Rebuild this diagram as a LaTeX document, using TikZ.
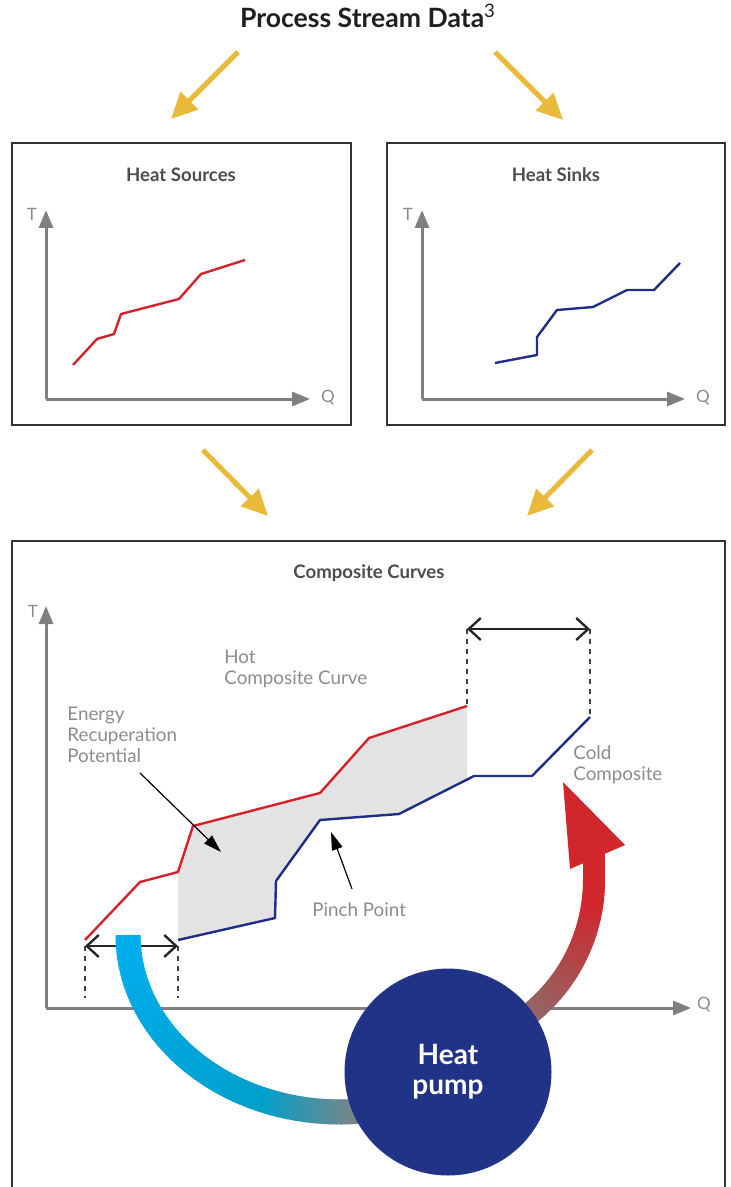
\documentclass[tikz,border=0pt]{standalone}
\usepackage{fontspec}
\setmainfont{Lato}
\usetikzlibrary{arrows.meta,calc}

\definecolor{flowyellow}{RGB}{233,185,57}
\definecolor{hotred}{RGB}{210,35,42}
\definecolor{coldblue}{RGB}{31,45,134}
\definecolor{pumpblue}{RGB}{33,51,135}
\definecolor{axisgrey}{RGB}{127,127,127}
\definecolor{labelgrey}{RGB}{140,140,140}
\definecolor{titlegrey}{RGB}{77,77,77}
\definecolor{areagrey}{RGB}{227,227,227}
\definecolor{bandcyan}{RGB}{0,174,239}
\definecolor{bandmid}{RGB}{0,160,204}
\definecolor{bandgrey}{RGB}{122,133,134}
\definecolor{bandbrown}{RGB}{138,111,108}
\definecolor{bandred}{RGB}{208,38,44}

\begin{document}
\begin{tikzpicture}[x=0.5pt,y=-0.5pt,
    flow/.style={flowyellow,line width=2.5pt,-{Triangle[length=13pt,width=12pt]}},
    panel/.style={draw=black!80,line width=0.6pt},
    axis/.style={axisgrey,line width=1.5pt,-{Triangle[length=9pt,width=7pt]}},
    axislabel/.style={text=labelgrey,anchor=base,font=\fontsize{8.5}{10}\selectfont},
    paneltitle/.style={text=titlegrey,anchor=base,font=\bfseries\fontsize{9.3}{11}\selectfont},
    hotline/.style={hotred,line width=1.2pt,line join=round},
    coldline/.style={coldblue,line width=1.2pt,line join=round},
    gap/.style={black!85,line width=1.2pt,{Straight Barb[length=6pt,width=11pt]}-{Straight Barb[length=6pt,width=11pt]}},
    guide/.style={black!75,line width=0.6pt,dash pattern=on 2.5pt off 2.5pt},
    note/.style={text=labelgrey,align=left,anchor=north west,inner sep=0pt,font=\fontsize{9.4}{10.5}\selectfont},
    pointer/.style={black,line width=0.6pt,-{Triangle[length=9pt,width=5.5pt]}},
    band/.style={line width=#1,line cap=butt}
  ]
  \useasboundingbox (0,0) rectangle (731,1187);

  % title and the four yellow arrows
  \node[anchor=base,text=black!88,font=\bfseries\fontsize{13.3}{16}\selectfont] (data) at (368,28)
    {Process Stream Data\textsuperscript{\mdseries 3}};
  \coordinate (d1) at (238,52);  \coordinate (src) at (171,119);
  \coordinate (d2) at (495,52);  \coordinate (snk) at (563,120);
  \coordinate (m1) at (203,450); \coordinate (cmp1) at (268,516);
  \coordinate (m2) at (592,450); \coordinate (cmp2) at (527,516);
  \draw[flow] (d1) -- (src);
  \draw[flow] (d2) -- (snk);
  \draw[flow] (m1) -- (cmp1);
  \draw[flow] (m2) -- (cmp2);

  % heat sources
  \draw[panel] (12,143) rectangle (351,425);
  \node[paneltitle] (srcT) at (181,182) {Heat Sources};
  \coordinate (o1) at (46,399);
  \draw[axis] (o1) -- (46,210);
  \draw[axis] (o1) -- (310,399);
  \node[axislabel] (t1) at (32,221) {T};
  \node[axislabel] (q1) at (328,402) {Q};
  \draw[hotline] (73,365) -- (97,339) -- (114,334) -- (121,314) -- (179,299) -- (201,274) -- (245,260);

  % heat sinks
  \draw[panel] (387,143) rectangle (725,425);
  \node[paneltitle] (snkT) at (556,182) {Heat Sinks};
  \coordinate (o2) at (422,399);
  \draw[axis] (o2) -- (422,210);
  \draw[axis] (o2) -- (685,399);
  \node[axislabel] (t2) at (408,221) {T};
  \node[axislabel] (q2) at (703,402) {Q};
  \draw[coldline] (495,363) -- (537,355) -- (537,337) -- (557,310) -- (593,307) -- (627,290) -- (654,290) -- (680,263);

  % composite curves
  \draw[panel] (12,1195) |- (725,541) -- (725,1195);
  \node[paneltitle] (cmpT) at (369,578) {Composite Curves};
  \coordinate (o3) at (46,1008);
  \draw[axis] (o3) -- (46,606);
  \draw[axis] (o3) -- (691,1008);
  \node[axislabel] (t3) at (33,617) {T};
  \node[axislabel] (q3) at (704,1009) {Q};

  \fill[areagrey] (178,872) -- (193,826) -- (320,793) -- (369,738) -- (467,706) -- (467,780)
    -- (399,814) -- (320,820) -- (276,881) -- (275,918) -- (178,940) -- cycle;
  \draw[hotline] (85,940) -- (140,882) -- (178,872) -- (193,826) -- (320,793) -- (369,738) -- (467,706);
  \draw[coldline] (178,940) -- (275,918) -- (276,881) -- (320,820) -- (399,814) -- (474,776) -- (532,776) -- (590,717);

  \coordinate (g1) at (467,629); \coordinate (g2) at (590,629);
  \coordinate (g3) at (85,946);  \coordinate (g4) at (178,946);
  \draw[guide] (g1) -- (467,706);
  \draw[guide] (g2) -- (590,717);
  \draw[guide] (g3) -- (85,998);
  \draw[guide] (g4) -- (178,998);
  \draw[gap] (g1) -- (g2);
  \draw[gap] (g3) -- (g4);

  \node[note] (hot) at (224,650) {Hot\\Composite Curve};
  \node[note] (erp) at (67,707) {Energy\\Recuperation\\Potential};
  \node[note] (cold) at (573,745) {Cold\\Composite};
  \node[note] (pinch) at (312,902) {Pinch Point};
  \coordinate (erpTip) at (221,852);
  \coordinate (pinchTip) at (331,832);
  \draw[pointer] (140,773) -- (erpTip);
  \draw[pointer] (352,889) -- (pinchTip);

  % heat pump loop
  \foreach \t in {180,179,...,86} {
    \ifnum\t>111
      \pgfmathtruncatemacro\p{(\t-112)*100/68}
      \colorlet{bandc}{bandcyan!\p!bandmid}
    \else
      \pgfmathtruncatemacro\p{(\t-86)*100/26}
      \colorlet{bandc}{bandmid!\p!bandgrey}
    \fi
    \draw[band=12.5pt,draw=bandc] ([shift={(\t:212 and 177)}]340,935)
      arc[start angle=\t,end angle=\t-1.5,x radius=212,y radius=177];
  }
  \foreach \t in {57,56,...,1} {
    \pgfmathtruncatemacro\p{min(100,max(0,(\t-8)*100/48))}
    \colorlet{bandc}{bandbrown!\p!bandred}
    \draw[band=11pt,draw=bandc] ([shift={(\t:173 and 172)}]421,880)
      arc[start angle=\t,end angle=\t-1.5,x radius=173,y radius=172];
  }
  \draw[band=11pt,draw=bandred] (594,881) -- (594,852);
  \fill[bandred] (563,782) -- (625,845) -- (570,869) -- cycle;

  \node[circle,fill=pumpblue,minimum size=103.5pt,inner sep=0pt,text=white,align=center,
    font=\bfseries\fontsize{14}{15}\selectfont] (pump) at (448,1072) {Heat\\pump};
\end{tikzpicture}
\end{document}
